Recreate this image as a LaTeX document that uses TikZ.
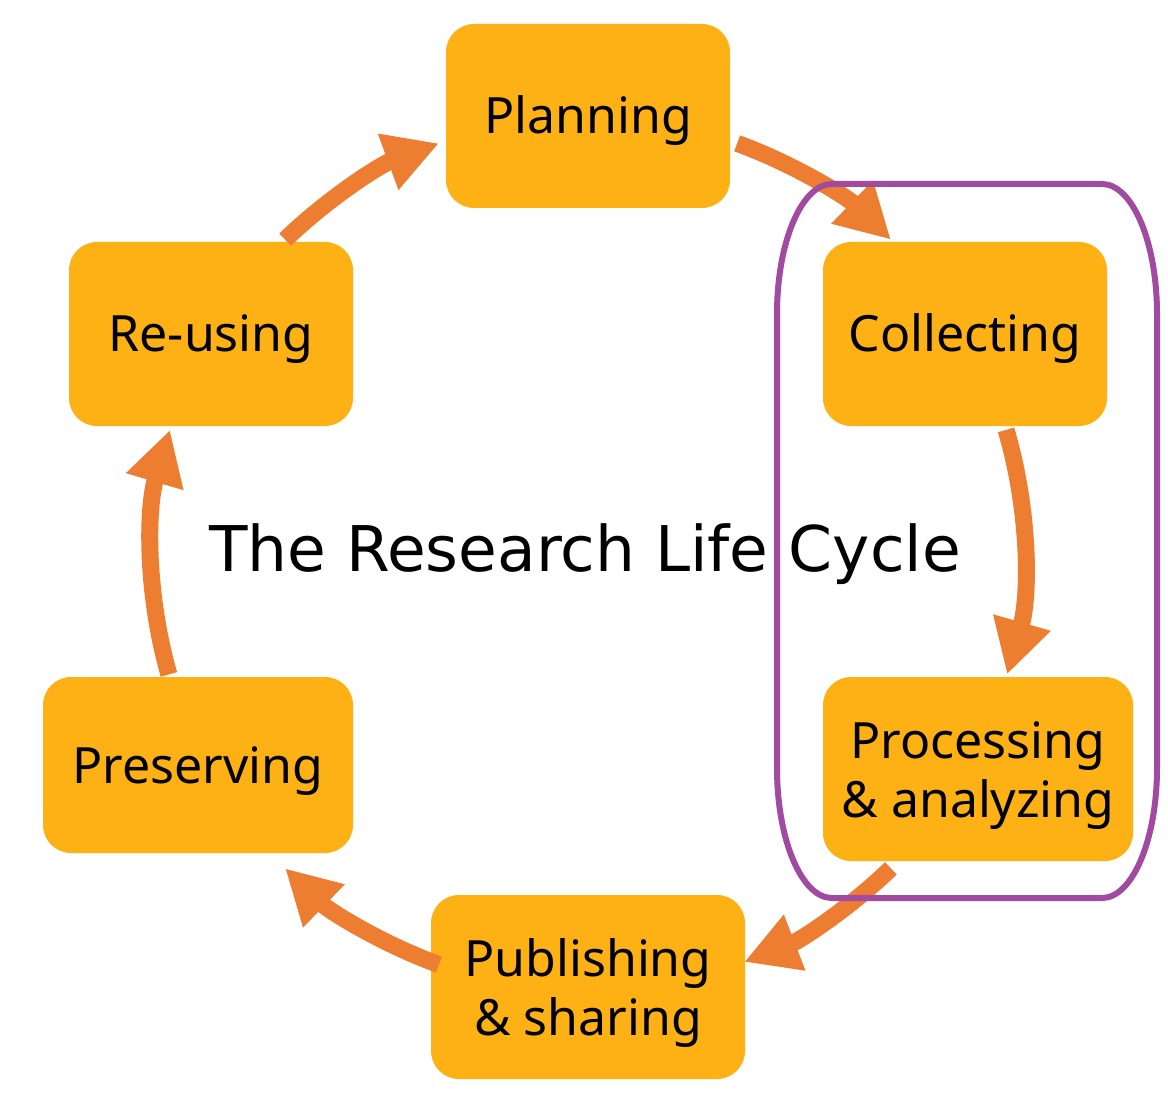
\documentclass[tikz,border=0pt]{standalone}
\usepackage{fontspec}
\setmainfont{Noto Sans}
\newfontfamily\titlefont{DejaVu Sans}
\usetikzlibrary{arrows.meta,calc}
\definecolor{boxgold}{RGB}{253,177,21}
\definecolor{arrorange}{RGB}{237,125,49}
\definecolor{framepurple}{RGB}{160,74,160}
\begin{document}
\begin{tikzpicture}[x=1pt,y=-1pt,
  stage/.style={fill=boxgold, rounded corners=28pt, inner sep=0pt,
    minimum height=184pt, align=center,
    font=\fontsize{50}{59}\selectfont, text height=36pt, text depth=0pt},
  stagetext/.style={anchor=base, inner sep=0pt, align=center,
    font=\fontsize{50}{59}\selectfont},
  arr/.style={draw=arrorange, line width=17pt,
    -{Triangle[width=56pt,length=54pt]}, arrorange}
]
\useasboundingbox (0,0) rectangle (1168,1110);
\fill[white] (0,0) rectangle (1168,1110);
\coordinate (cen) at (588,554);

\node[stage, minimum width=284pt] (plan) at (588,116) {Planning};
\node[stage, minimum width=284pt] (coll) at (965,334) {Collecting};
\node[stage, minimum width=310pt] (proc) at (978,769) {};
\node[stagetext] (proctext) at ($(proc.center)+(0,48)$) {Processing\\\& analyzing};
\node[stage, minimum width=314pt] (publ) at (588,987) {};
\node[stagetext] (publtext) at ($(publ.center)+(0,48)$) {Publishing\\\& sharing};
\node[stage, minimum width=310pt, minimum height=176pt] (pres) at (198,765) {Preserving};
\node[stage, minimum width=284pt] (reus) at (211,334) {Re-using};

\node[anchor=base, inner sep=0pt, font=\titlefont\fontsize{63}{70}\selectfont] (title) at (585,571) {The Research Life Cycle};

% connectors: arcs of the cycle around (cen)
\draw[arr] ($(cen)+(-134:436 and 437)$) arc[start angle=-134, end angle=-110, x radius=436, y radius=437]; % reus -> plan
\draw[arr] ($(cen)+(-70:436 and 437)$) arc[start angle=-70, end angle=-46, x radius=436, y radius=437]; % plan -> coll
\draw[arr] ($(cen)+(-16.5:436 and 437)$) arc[start angle=-16.5, end angle=16, x radius=436, y radius=437]; % coll -> proc
\draw[arr] ($(cen)+(46:436 and 437)$) arc[start angle=46, end angle=69, x radius=436, y radius=437]; % proc -> publ
\draw[arr] ($(cen)+(110:436 and 437)$) arc[start angle=110, end angle=134, x radius=436, y radius=437]; % publ -> pres
\draw[arr] ($(cen)+(164:436 and 437)$) arc[start angle=164, end angle=196.5, x radius=436, y radius=437]; % pres -> reus

% purple frame
\draw[framepurple, line width=6pt]
  (832,184) -- (1102,184)
  arc[start angle=-90, end angle=0, x radius=55, y radius=130]
  -- (1157,768)
  arc[start angle=0, end angle=90, x radius=55, y radius=130]
  -- (832,898)
  arc[start angle=90, end angle=180, x radius=55, y radius=130]
  -- (777,314)
  arc[start angle=180, end angle=270, x radius=55, y radius=130]
  -- cycle;
\end{tikzpicture}
\end{document}
